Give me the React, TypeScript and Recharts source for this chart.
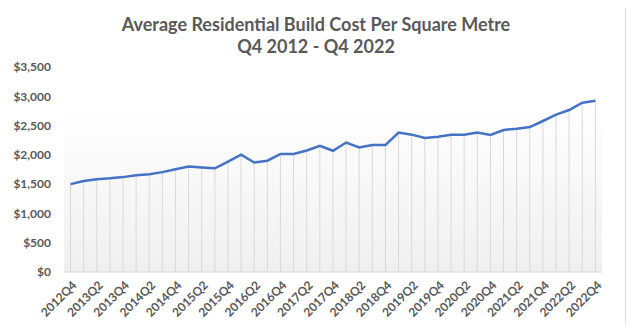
import React from 'react';
import { ComposedChart, Line, Bar, XAxis, YAxis, ReferenceArea } from 'recharts';

const quarters = [
  '2012Q4', '2013Q1', '2013Q2', '2013Q3', '2013Q4', '2014Q1', '2014Q2', '2014Q3', '2014Q4',
  '2015Q1', '2015Q2', '2015Q3', '2015Q4', '2016Q1', '2016Q2', '2016Q3', '2016Q4',
  '2017Q1', '2017Q2', '2017Q3', '2017Q4', '2018Q1', '2018Q2', '2018Q3', '2018Q4',
  '2019Q1', '2019Q2', '2019Q3', '2019Q4', '2020Q1', '2020Q2', '2020Q3', '2020Q4',
  '2021Q1', '2021Q2', '2021Q3', '2021Q4', '2022Q1', '2022Q2', '2022Q3', '2022Q4'
];

const avgCost = [
  1500, 1555, 1585, 1600, 1620, 1650, 1670, 1705, 1755,
  1800, 1785, 1770, 1885, 2005, 1870, 1900, 2015,
  2015, 2075, 2155, 2070, 2210, 2125, 2170, 2170,
  2380, 2345, 2290, 2310, 2345, 2345, 2380, 2340,
  2425, 2447, 2475, 2578, 2686, 2766, 2891, 2925
];

const yTicks = [0, 500, 1000, 1500, 2000, 2500, 3000, 3500];

const data = quarters.map((q, i) => ({ quarter: q, cost: avgCost[i] }));
const peak = Math.max(...avgCost);

const FONT = 'Lato, "Open Sans", sans-serif';
const GREY = '#595959';

const QuarterTick = (props: any) => {
  const { x, y, payload } = props;
  return <g transform={`translate(${x + 4},${y + 11})`}>
      <text x={0} y={0} dy="0.35em" textAnchor="end" transform="rotate(-45)" fill={GREY} fontSize={12} fontWeight={700} fontFamily={FONT}>
        {payload.value}
      </text>
    </g>;
};

export default function App() {
  return <div style={{ position: 'relative', width: 634, height: 331, margin: -8, background: '#fff' }}>
      <div style={{ position: 'absolute', left: 3, top: 3, width: 621, height: 322, border: '1px solid #d9d9d9' }} />
      <div style={{ position: 'absolute', left: 0, top: 13, width: 632, textAlign: 'center', fontFamily: FONT, fontWeight: 700, fontSize: 18, lineHeight: '22px', color: GREY }}>
        Average Residential Build Cost Per Square Metre
        <br />
        Q4 2012 - Q4 2022
      </div>
      <div style={{ position: 'absolute', left: 0, top: 0 }}>
        <ComposedChart width={634} height={331} data={data} margin={{ top: 67, right: 32, bottom: 0, left: 0 }}>
          <defs>
            <linearGradient id="plotFade" x1="0" y1="0" x2="0" y2="1">
              <stop offset="0%" stopColor="#ffffff" />
              <stop offset="100%" stopColor="#f0f0f0" />
            </linearGradient>
          </defs>
          <XAxis dataKey="quarter" interval={1} tick={<QuarterTick />} tickLine={false} tickSize={0} tickMargin={0} height={59} axisLine={{ stroke: '#d9d9d9' }} />
          <YAxis width={64} domain={[0, 3500]} ticks={yTicks} axisLine={false} tickLine={false} tickSize={0} tickMargin={13} tickFormatter={(v: number) => `$${v.toLocaleString('en-US')}`} tick={{ fill: GREY, fontSize: 12, fontWeight: 700, fontFamily: FONT }} />
          <ReferenceArea y1={0} y2={peak} fill="url(#plotFade)" fillOpacity={1} stroke="none" />
          <Bar dataKey="cost" barSize={1} fill="#d9d9d9" isAnimationActive={false} />
          <Line dataKey="cost" type="linear" stroke="#4472c4" strokeWidth={2.5} dot={false} activeDot={false} isAnimationActive={false} />
        </ComposedChart>
      </div>
    </div>;
}
